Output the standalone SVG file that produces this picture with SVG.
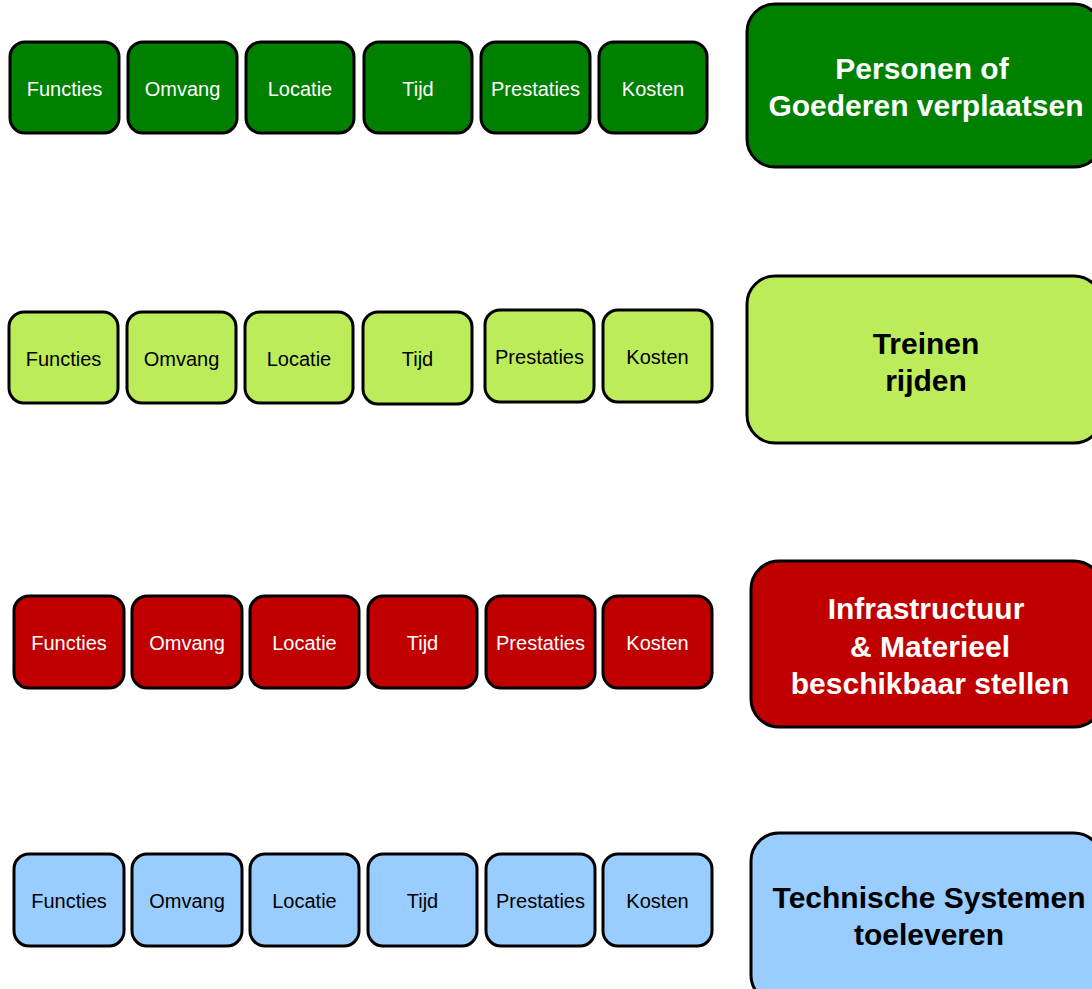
<svg xmlns="http://www.w3.org/2000/svg" width="1092" height="989" viewBox="0 0 1092 989">
<style>
.s{stroke:#000;stroke-width:3}
.g{fill:#008000}
.lg{fill:#BDEC5B}
.r{fill:#C00000}
.b{fill:#99CCFF}
.t{font-family:"Liberation Sans",Arial,sans-serif;font-size:20px;text-anchor:middle}
.T{font-family:"Liberation Sans",Arial,sans-serif;font-size:30px;font-weight:bold;text-anchor:middle}
.w{fill:#fff}
.k{fill:#000}
</style>
<rect width="1092" height="989" fill="#fff"/>
<g id="row1">
<g id="r1-functies"><rect class="s g" x="10" y="42" width="109" height="91" rx="15"/><text class="t w" x="64.5" y="96">Functies</text></g>
<g id="r1-omvang"><rect class="s g" x="128" y="42" width="109" height="91" rx="15"/><text class="t w" x="182.5" y="96">Omvang</text></g>
<g id="r1-locatie"><rect class="s g" x="246" y="42" width="108" height="91" rx="15"/><text class="t w" x="300" y="96">Locatie</text></g>
<g id="r1-tijd"><rect class="s g" x="364" y="42" width="108" height="91" rx="15"/><text class="t w" x="418" y="96">Tijd</text></g>
<g id="r1-prestaties"><rect class="s g" x="481" y="42" width="109" height="91" rx="15"/><text class="t w" x="535.5" y="96">Prestaties</text></g>
<g id="r1-kosten"><rect class="s g" x="599" y="42" width="108" height="91" rx="15"/><text class="t w" x="653" y="96">Kosten</text></g>
<g id="r1-main"><rect class="s g" x="747" y="4" width="355" height="163" rx="28"/><text class="T w" x="922" y="79">Personen of</text><text class="T w" x="926" y="116">Goederen verplaatsen</text></g>
</g>
<g id="row2">
<g id="r2-functies"><rect class="s lg" x="9" y="312" width="109" height="91" rx="15"/><text class="t k" x="63.5" y="366">Functies</text></g>
<g id="r2-omvang"><rect class="s lg" x="127" y="312" width="109" height="91" rx="15"/><text class="t k" x="181.5" y="366">Omvang</text></g>
<g id="r2-locatie"><rect class="s lg" x="245" y="312" width="108" height="91" rx="15"/><text class="t k" x="299" y="366">Locatie</text></g>
<g id="r2-tijd"><rect class="s lg" x="363" y="312" width="109" height="92" rx="15"/><text class="t k" x="417.5" y="366">Tijd</text></g>
<g id="r2-prestaties"><rect class="s lg" x="485" y="310" width="109" height="92" rx="15"/><text class="t k" x="539.5" y="364">Prestaties</text></g>
<g id="r2-kosten"><rect class="s lg" x="603" y="310" width="109" height="92" rx="15"/><text class="t k" x="657.5" y="364">Kosten</text></g>
<g id="r2-main"><rect class="s lg" x="747" y="276" width="355" height="167" rx="28"/><text class="T k" x="926" y="354">Treinen</text><text class="T k" x="926" y="391">rijden</text></g>
</g>
<g id="row3">
<g id="r3-functies"><rect class="s r" x="14" y="596" width="110" height="92" rx="15"/><text class="t w" x="69" y="650">Functies</text></g>
<g id="r3-omvang"><rect class="s r" x="132" y="596" width="110" height="92" rx="15"/><text class="t w" x="187" y="650">Omvang</text></g>
<g id="r3-locatie"><rect class="s r" x="250" y="596" width="109" height="92" rx="15"/><text class="t w" x="304.5" y="650">Locatie</text></g>
<g id="r3-tijd"><rect class="s r" x="368" y="596" width="109" height="92" rx="15"/><text class="t w" x="422.5" y="650">Tijd</text></g>
<g id="r3-prestaties"><rect class="s r" x="486" y="596" width="109" height="92" rx="15"/><text class="t w" x="540.5" y="650">Prestaties</text></g>
<g id="r3-kosten"><rect class="s r" x="603" y="596" width="109" height="92" rx="15"/><text class="t w" x="657.5" y="650">Kosten</text></g>
<g id="r3-main"><rect class="s r" x="751" y="561" width="351" height="166" rx="28"/><text class="T w" x="926" y="619">Infrastructuur</text><text class="T w" x="930" y="657">&amp; Materieel</text><text class="T w" x="930" y="694">beschikbaar stellen</text></g>
</g>
<g id="row4">
<g id="r4-functies"><rect class="s b" x="14" y="854" width="110" height="92" rx="15"/><text class="t k" x="69" y="908">Functies</text></g>
<g id="r4-omvang"><rect class="s b" x="132" y="854" width="110" height="92" rx="15"/><text class="t k" x="187" y="908">Omvang</text></g>
<g id="r4-locatie"><rect class="s b" x="250" y="854" width="109" height="92" rx="15"/><text class="t k" x="304.5" y="908">Locatie</text></g>
<g id="r4-tijd"><rect class="s b" x="368" y="854" width="109" height="92" rx="15"/><text class="t k" x="422.5" y="908">Tijd</text></g>
<g id="r4-prestaties"><rect class="s b" x="486" y="854" width="109" height="92" rx="15"/><text class="t k" x="540.5" y="908">Prestaties</text></g>
<g id="r4-kosten"><rect class="s b" x="603" y="854" width="109" height="92" rx="15"/><text class="t k" x="657.5" y="908">Kosten</text></g>
<g id="r4-main"><rect class="s b" x="751" y="833" width="351" height="170" rx="28"/><text class="T k" x="929" y="908">Technische Systemen</text><text class="T k" x="929" y="945">toeleveren</text></g>
</g>
<g id="connectors"/>
</svg>
